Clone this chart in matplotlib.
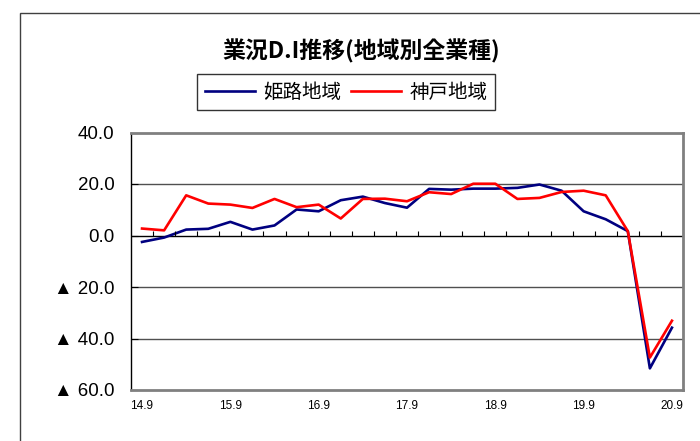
import numpy as np
import matplotlib.pyplot as plt
from matplotlib.patches import Rectangle

# quarterly periods 14.9 ... 20.9
periods = ['14.9', '14.12', '15.3', '15.6', '15.9', '15.12', '16.3', '16.6', '16.9',
           '16.12', '17.3', '17.6', '17.9', '17.12', '18.3', '18.6', '18.9', '18.12',
           '19.3', '19.6', '19.9', '19.12', '20.3', '20.6', '20.9']
himeji = [-2.5, -0.8, 2.3, 2.6, 5.3, 2.3, 3.9, 10.1, 9.4, 13.7, 15.1, 12.6, 10.8,
          18.1, 17.8, 18.2, 18.2, 18.5, 19.8, 17.4, 9.4, 6.3, 1.7, -51.6, -35.8]
kobe = [2.7, 2.0, 15.6, 12.4, 12.0, 10.7, 14.2, 11.0, 12.0, 6.6, 14.2, 14.3, 13.3,
        16.8, 16.1, 20.1, 20.1, 14.2, 14.6, 16.9, 17.4, 15.6, 1.7, -47.4, -33.1]
yticks = [40, 20, 0, -20, -40, -60]

jp = ['Noto Sans CJK JP', 'DejaVu Sans']
num = ['Liberation Sans', 'DejaVu Sans', 'Noto Sans CJK JP']

fig = plt.figure(figsize=(7, 4.41), dpi=100)
ax = fig.add_axes([131/700, 1 - 390/441, 552/700, (390 - 132.5)/441])

x = np.arange(len(periods))
l1, = ax.plot(x, himeji, color='#000080', lw=1.9, label='姫路地域')
l2, = ax.plot(x, kobe, color='#ff0000', lw=1.9, label='神戸地域')

ax.set_xlim(-0.5, len(periods) - 0.5)
ax.set_ylim(-60, 40)

for v in [20, -20, -40]:
    ax.axhline(v, color='#505050', lw=1.0, zorder=0)
ax.axhline(0, color='black', lw=1.0, zorder=1)
# category tick marks on the zero line
ax.vlines(np.arange(len(periods) - 1) + 0.5, 0, 1.6, color='black', lw=0.8)

ax.set_yticks(yticks)
ax.set_yticklabels([f'{v:.1f}' if v >= 0 else f'▲ {abs(v):.1f}' for v in yticks],
                   family=num, fontsize=13.5)
ax.tick_params(axis='y', direction='in', length=5, pad=12, color='black')

ax.set_xticks(x[::4])
ax.set_xticklabels(periods[::4], family=num, fontsize=8.5)
ax.tick_params(axis='x', length=0, pad=7)

for s in ['top', 'right', 'bottom']:
    ax.spines[s].set_color('#808080')
    ax.spines[s].set_linewidth(2)
ax.spines['left'].set_color('black')
ax.spines['left'].set_linewidth(1)

fig.text(361/700, 1 - 51/441, '業況D.I推移(地域別全業種)', ha='center', va='center',
         family=jp, fontsize=16.5, fontweight='bold')

leg = fig.legend(handles=[l1, l2], loc='center', bbox_to_anchor=(346/700, 1 - 92/441),
                 ncol=2, prop={'family': jp, 'size': 14}, frameon=True, fancybox=False,
                 edgecolor='black', handlelength=2.6, handletextpad=0.4,
                 columnspacing=0.5, borderpad=0.4, borderaxespad=0)
leg.get_frame().set_linewidth(1)

fig.patches.append(Rectangle((20/700, -0.05), 1.2, 1 - 13/441 + 0.05, transform=fig.transFigure,
                             fill=False, edgecolor='#404040', lw=1))

fig.savefig('out.png', dpi=100)
